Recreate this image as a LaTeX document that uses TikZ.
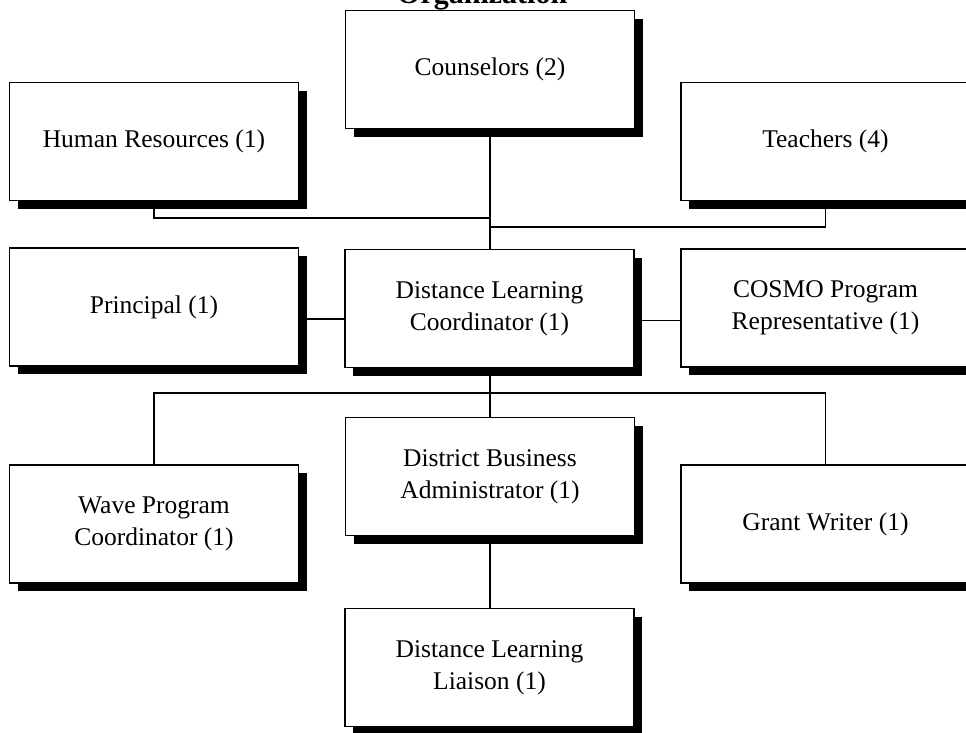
\documentclass[tikz,border=0pt]{standalone}
\usepackage{fontspec}
\setmainfont{Liberation Serif}
\usetikzlibrary{shadows,backgrounds}

\tikzset{
  unit/.style={draw=black, line width=1.4pt, fill=white,
    minimum width=289pt, minimum height=118pt, inner sep=0pt,
    align=center, font=\fontsize{25.5}{32}\selectfont,
    drop shadow={shadow xshift=8pt, shadow yshift=-8pt, opacity=1, fill=black}},
  link/.style={draw=black, line width=1.4pt},
  heading/.style={font=\bfseries\fontsize{30}{36}\selectfont, inner sep=0pt}
}

\begin{document}
\begin{tikzpicture}[x=1pt, y=-1pt]
  \useasboundingbox (0,0) rectangle (966,732);
  \clip (0,0) rectangle (966,732);

  \node[heading, anchor=base west] (title) at (397,3) {Organization};

  % top row
  \node[unit] (hr)    at (154,141.5)   {Human Resources (1)};
  \node[unit] (coun)  at (490,69.5)    {Counselors (2)};
  \node[unit] (teach) at (825.5,141.5) {Teachers (4)};

  % middle row
  \node[unit] (prin)  at (154,307)     {Principal (1)};
  \node[unit] (dlc)   at (489.5,308.5) {Distance Learning\\Coordinator (1)};
  \node[unit] (cosmo) at (825.5,308)   {COSMO Program\\Representative (1)};

  % lower rows
  \node[unit] (wave)  at (154,524)     {Wave Program\\Coordinator (1)};
  \node[unit] (dba)   at (490,476.5)   {District Business\\Administrator (1)};
  \node[unit] (grant) at (825.5,524)   {Grant Writer (1)};
  \node[unit] (dll)   at (489.5,667.5) {Distance Learning\\Liaison (1)};

  % joints on the connector trunks
  \coordinate (hrj) at (490,218);
  \coordinate (tj)  at (490,227);
  \coordinate (bus) at (490,393);

  \begin{pgfonlayer}{background}
    \fill[white] (0,0) rectangle (966,732);
    \draw[link] (coun.south) -- (coun.south |- dlc.north);
    \draw[link] (hr.south) |- (hrj);
    \draw[link] (teach.south) |- (tj);
    \draw[link] ([yshift=-12pt]prin.east) -- ([yshift=-12pt]prin.east -| dlc.west);
    \draw[link] ([yshift=-12pt]dlc.east) -- ([yshift=-12pt]dlc.east -| cosmo.west);
    \draw[link] (dlc.south -| dba.north) -- (dba.north);
    \draw[link] (wave.north) -- (wave.north |- bus) -- (grant.north |- bus) -- (grant.north);
    \draw[link] (dba.south) -- (dba.south |- dll.north);
  \end{pgfonlayer}
\end{tikzpicture}
\end{document}
